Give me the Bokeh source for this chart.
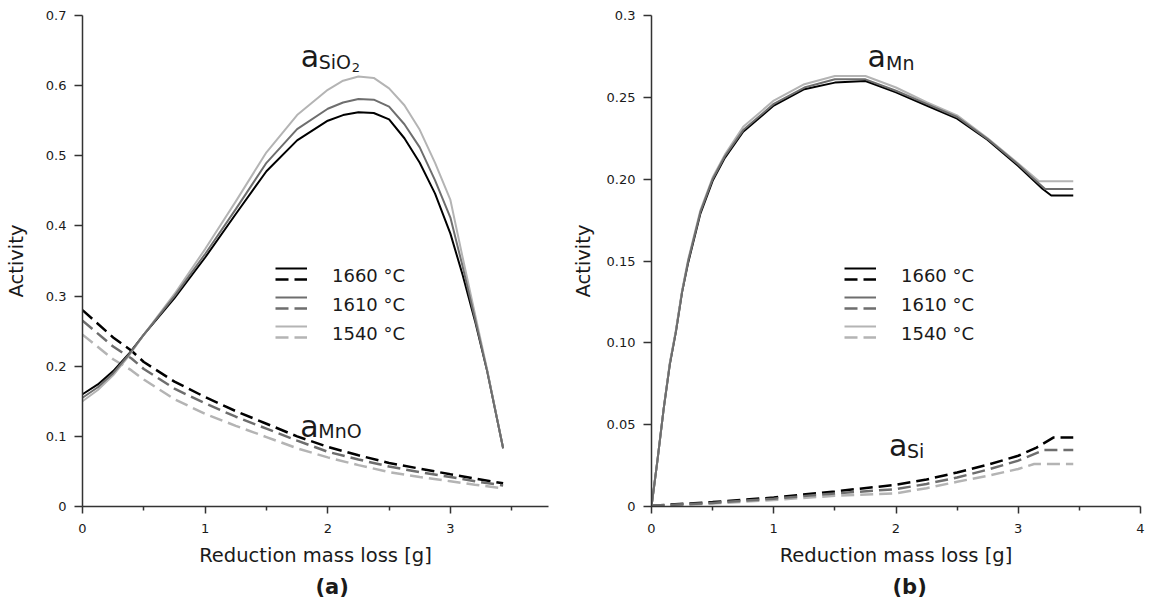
from bokeh.plotting import figure
from bokeh.layouts import row
from bokeh.models import FixedTicker, Label, Legend, LegendItem, Range1d, Title
from bokeh.embed import file_html
from bokeh.resources import INLINE

FONT = "DejaVu Sans"
TXT = "#1a1a1a"

temps = ["1660 °C", "1610 °C", "1540 °C"]
colors = ["#000000", "#6e6e6e", "#b4b4b4"]

# ---------------- panel (a) ----------------
x_sio2 = [0, 0.125, 0.25, 0.375, 0.5, 0.75, 1.0, 1.25, 1.5, 1.75, 2.0, 2.125, 2.25, 2.375,
          2.5, 2.625, 2.75, 2.875, 3.0, 3.1, 3.2, 3.3, 3.43]
sio2_1660 = [0.160, 0.174, 0.193, 0.217, 0.245, 0.297, 0.355, 0.417, 0.478, 0.522, 0.550,
             0.558, 0.562, 0.561, 0.552, 0.525, 0.490, 0.446, 0.389, 0.330, 0.265, 0.193, 0.083]
sio2_1610 = [0.155, 0.170, 0.190, 0.216, 0.245, 0.300, 0.360, 0.424, 0.490, 0.538, 0.567,
             0.576, 0.581, 0.580, 0.570, 0.545, 0.512, 0.465, 0.412, 0.342, 0.268, 0.193, 0.083]
sio2_1540 = [0.150, 0.166, 0.187, 0.214, 0.245, 0.303, 0.367, 0.435, 0.505, 0.558, 0.594,
             0.607, 0.613, 0.611, 0.596, 0.572, 0.537, 0.490, 0.437, 0.355, 0.275, 0.195, 0.083]

x_mno = [0, 0.25, 0.4, 0.5, 0.75, 1.0, 1.25, 1.5, 1.75, 2.0, 2.25, 2.5, 2.75, 3.0, 3.2, 3.43]
mno_1660 = [0.280, 0.241, 0.222, 0.206, 0.178, 0.156, 0.136, 0.118, 0.100, 0.085, 0.073,
            0.062, 0.054, 0.046, 0.040, 0.033]
mno_1610 = [0.265, 0.228, 0.211, 0.196, 0.168, 0.147, 0.128, 0.111, 0.094, 0.078, 0.067,
            0.057, 0.049, 0.042, 0.036, 0.030]
mno_1540 = [0.245, 0.210, 0.194, 0.181, 0.153, 0.132, 0.115, 0.099, 0.083, 0.070, 0.059,
            0.049, 0.042, 0.036, 0.031, 0.026]

xticks_a = [0, 1, 2, 3]
xminor_a = [0.5, 1.5, 2.5, 3.5]
yticks_a = [0, 0.1, 0.2, 0.3, 0.4, 0.5, 0.6, 0.7]
ylabels_a = ["0", "0.1", "0.2", "0.3", "0.4", "0.5", "0.6", "0.7"]

# ---------------- panel (b) ----------------
x_mn_1660 = [0, 0.05, 0.1, 0.15, 0.2, 0.25, 0.3, 0.4, 0.5, 0.6, 0.75, 1.0, 1.25, 1.5,
             1.75, 2.0, 2.25, 2.5, 2.75, 3.0, 3.1, 3.2, 3.27, 3.45]
mn_1660 = [0, 0.029, 0.060, 0.087, 0.107, 0.131, 0.149, 0.179, 0.199, 0.213, 0.229, 0.245,
           0.255, 0.259, 0.260, 0.253, 0.245, 0.237, 0.224, 0.208, 0.201, 0.194, 0.190, 0.190]
x_mn_1610 = [0, 0.05, 0.1, 0.15, 0.2, 0.25, 0.3, 0.4, 0.5, 0.6, 0.75, 1.0, 1.25, 1.5,
             1.75, 2.0, 2.25, 2.5, 2.75, 3.0, 3.1, 3.22, 3.45]
mn_1610 = [0, 0.029, 0.060, 0.087, 0.107, 0.131, 0.150, 0.180, 0.200, 0.214, 0.230, 0.246,
           0.256, 0.261, 0.261, 0.254, 0.246, 0.238, 0.2245, 0.209, 0.202, 0.194, 0.194]
x_mn_1540 = [0, 0.05, 0.1, 0.15, 0.2, 0.25, 0.3, 0.4, 0.5, 0.6, 0.75, 1.0, 1.25, 1.5,
             1.75, 2.0, 2.25, 2.5, 2.75, 3.0, 3.17, 3.45]
mn_1540 = [0, 0.029, 0.060, 0.088, 0.108, 0.132, 0.151, 0.181, 0.201, 0.215, 0.232, 0.248,
           0.258, 0.263, 0.263, 0.256, 0.247, 0.239, 0.225, 0.2095, 0.1987, 0.1987]

x_si_1660 = [0, 0.5, 1.0, 1.5, 2.0, 2.25, 2.5, 2.75, 3.0, 3.15, 3.29, 3.45]
si_1660 = [0.0005, 0.0027, 0.0055, 0.0092, 0.0133, 0.0165, 0.0208, 0.0255, 0.031, 0.036,
           0.0422, 0.0422]
x_si_1610 = [0, 0.5, 1.0, 1.5, 2.0, 2.25, 2.5, 2.75, 3.0, 3.21, 3.45]
si_1610 = [0.0004, 0.0022, 0.0048, 0.0080, 0.0106, 0.0138, 0.0177, 0.0225, 0.028, 0.0345,
           0.0345]
x_si_1540 = [0, 0.5, 1.0, 1.5, 2.0, 2.25, 2.5, 2.75, 3.0, 3.13, 3.45]
si_1540 = [0.0003, 0.0018, 0.0040, 0.0065, 0.0080, 0.0112, 0.0151, 0.0188, 0.0229, 0.026,
           0.026]

xticks_b = [0, 1, 2, 3, 4]
xminor_b = [0.5, 1.5, 2.5, 3.5]
yticks_b = [0, 0.05, 0.10, 0.15, 0.20, 0.25, 0.3]
ylabels_b = ["0", "0.05", "0.10", "0.15", "0.20", "0.25", "0.3"]


def make_fig(width, b_left, b_right, x_end, xt, xm, y_end, yt, yl, ylab_standoff):
    p = figure(width=width, height=602, x_range=Range1d(0, x_end), y_range=Range1d(0, y_end),
               output_backend="svg", toolbar_location=None,
               min_border_left=b_left, min_border_right=b_right,
               min_border_top=15, min_border_bottom=96)
    p.grid.visible = False
    p.outline_line_color = None
    p.background_fill_color = "white"
    p.border_fill_color = "white"
    for ax in (p.xaxis[0], p.yaxis[0]):
        ax.axis_line_color = "#333333"
        ax.axis_line_width = 1.5
        ax.major_tick_line_color = "#333333"
        ax.major_tick_line_width = 1.5
        ax.minor_tick_line_color = "#333333"
        ax.minor_tick_line_width = 1.5
        ax.major_tick_in = 0
        ax.major_tick_out = 8
        ax.minor_tick_in = 0
        ax.minor_tick_out = 4
        ax.major_label_text_font = FONT
        ax.major_label_text_font_size = "13px"
        ax.major_label_text_color = TXT
        ax.axis_label_text_font = FONT
        ax.axis_label_text_font_size = "19.5px"
        ax.axis_label_text_font_style = "normal"
        ax.axis_label_text_color = TXT
    p.xaxis.ticker = FixedTicker(ticks=xt, minor_ticks=xm)
    p.yaxis.ticker = FixedTicker(ticks=yt, minor_ticks=[])
    p.xaxis.major_tick_out = 7
    p.xaxis.major_label_standoff = 10
    p.yaxis.major_label_standoff = 8
    p.yaxis.major_label_overrides = dict(zip(yt, yl))
    p.xaxis.axis_label = "Reduction mass loss [g]"
    p.yaxis.axis_label = "Activity"
    p.xaxis.axis_label_standoff = 8
    p.yaxis.axis_label_standoff = ylab_standoff
    return p


def add_legends(p, solid, dashed):
    common = dict(glyph_height=10, label_height=22, spacing=7,
                  padding=0, margin=0, border_line_alpha=0, background_fill_alpha=0,
                  label_text_font=FONT, label_text_font_size="18px", label_text_color=TXT)
    # line samples: solid row above, dashed row below
    l1 = Legend(items=[LegendItem(label=" ", renderers=[r]) for r in solid],
                location=(193, 169), glyph_width=32, label_standoff=0, **common)
    l2 = Legend(items=[LegendItem(label=" ", renderers=[r]) for r in dashed],
                location=(193, 158.5), glyph_width=32, label_standoff=0, **common)
    # temperature texts, centred between the two samples
    l3 = Legend(items=[LegendItem(label=t, renderers=[s, d])
                       for t, s, d in zip(temps, solid, dashed)],
                location=(250, 162), glyph_width=0, label_standoff=0, **common)
    for lg in (l1, l2, l3):
        p.add_layout(lg)


def species(p, x, y, sub, sub_dx, sub_dy, sub2=None, sub2_dx=0, sub2_dy=0):
    p.add_layout(Label(x=x, y=y, text="a", text_font=FONT, text_font_size="30px",
                       text_color=TXT, text_baseline="alphabetic", text_align="left"))
    p.add_layout(Label(x=x, y=y, x_offset=sub_dx, y_offset=sub_dy, text=sub, text_font=FONT,
                       text_font_size="19px", text_color=TXT, text_baseline="alphabetic",
                       text_align="left"))
    if sub2:
        p.add_layout(Label(x=x, y=y, x_offset=sub2_dx, y_offset=sub2_dy, text=sub2,
                           text_font=FONT, text_font_size="13px", text_color=TXT,
                           text_baseline="alphabetic", text_align="left"))


def panel_tag(p, text, offset):
    p.add_layout(Title(text=text, align="left", offset=offset, standoff=7,
                       text_font=FONT, text_font_size="21px", text_font_style="bold",
                       text_color=TXT), "below")


order = [0, 2, 1]

# panel (a)
pa = make_fig(568, 82, 20, 3.8, xticks_a, xminor_a, 0.7, yticks_a, ylabels_a, 15)
sio2 = [sio2_1660, sio2_1610, sio2_1540]
mno = [mno_1660, mno_1610, mno_1540]
solid_a, dashed_a = [None] * 3, [None] * 3
for i in order:
    dashed_a[i] = pa.line(x_mno, mno[i], line_color=colors[i], line_width=2.5, line_dash="13 6")
for i in order:
    solid_a[i] = pa.line(x_sio2, sio2[i], line_color=colors[i], line_width=2)
add_legends(pa, solid_a, dashed_a)
species(pa, 1.78, 0.641, "SiO", 18, -5.6, "2", 51, -10.3)
species(pa, 1.776, 0.114, "MnO", 18, -4.7)
panel_tag(pa, "(a)", 233)

# panel (b)
pb = make_fig(579, 82, 7, 4, xticks_b, xminor_b, 0.3, yticks_b, ylabels_b, 9)
mn_x = [x_mn_1660, x_mn_1610, x_mn_1540]
mn_y = [mn_1660, mn_1610, mn_1540]
si_x = [x_si_1660, x_si_1610, x_si_1540]
si_y = [si_1660, si_1610, si_1540]
solid_b, dashed_b = [None] * 3, [None] * 3
for i in order:
    dashed_b[i] = pb.line(si_x[i], si_y[i], line_color=colors[i], line_width=2.5, line_dash="13 6")
for i in order:
    solid_b[i] = pb.line(mn_x[i], mn_y[i], line_color=colors[i], line_width=2)
add_legends(pb, solid_b, dashed_b)
species(pb, 1.767, 0.2749, "Mn", 18.5, -6.3)
species(pb, 1.943, 0.0371, "Si", 18, -5.7)
panel_tag(pb, "(b)", 241)

layout = row(pa, pb, spacing=0)
open("out.html", "w").write(file_html(layout, INLINE))
